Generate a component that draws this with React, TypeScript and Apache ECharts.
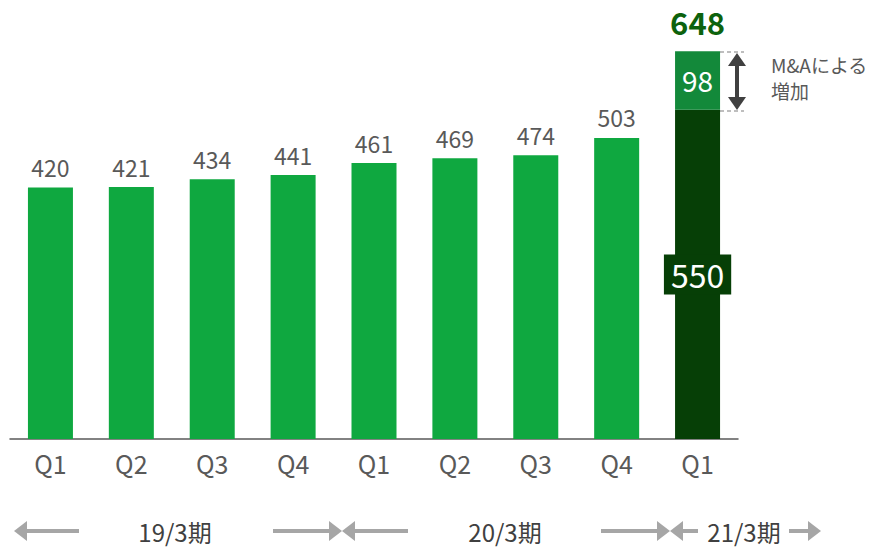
import React, { useEffect, useRef } from "react";
import * as echarts from "echarts";

const categories = ["Q1", "Q2", "Q3", "Q4", "Q1", "Q2", "Q3", "Q4", "Q1"];
const baseValues = [420, 421, 434, 441, 461, 469, 474, 503, 550];
const maValues: (number | null)[] = [null, null, null, null, null, null, null, null, 98];
const totalLabel = "648";
const periods = ["19/3期", "20/3期", "21/3期"];
const noteLines = ["M&Aによる", "増加"];

const FONT = '"Noto Sans CJK JP", "Noto Sans", sans-serif';
const GREEN = "#0fa840";
const DARK = "#063f06";
const MID = "#13893a";
const ARROW = "#a6a6a6";

function arrow(tipX: number, tailX: number, y: number) {
  const dir = tailX > tipX ? 1 : -1;
  const headLen = 13;
  const baseX = tipX + dir * headLen;
  return [
    {
      type: "rect",
      shape: { x: Math.min(baseX, tailX), y: y - 2, width: Math.abs(tailX - baseX), height: 4 },
      style: { fill: ARROW },
      silent: true,
    },
    {
      type: "polygon",
      shape: { points: [[tipX, y], [baseX, y - 10], [baseX, y + 10]] },
      style: { fill: ARROW },
      silent: true,
    },
  ];
}

export default function App() {
  const ref = useRef<HTMLDivElement>(null);
  useEffect(() => {
    const chart = echarts.init(ref.current!, null, { renderer: "svg" });
    const n = baseValues.length;
    const ay = 531;
    const periodStyle = (t: string) => ({
      text: t,
      fill: "#404040",
      font: `24px ${FONT}`,
      lineHeight: 26,
      align: "center",
      verticalAlign: "middle",
    });
    const noteStyle = (t: string) => ({
      text: t,
      fill: "#595959",
      font: `19px ${FONT}`,
      lineHeight: 20,
      align: "left",
      verticalAlign: "middle",
    });
    chart.setOption({
      animation: false,
      grid: { left: 10, right: 146, top: 20, bottom: 108, containLabel: false },
      xAxis: {
        type: "category",
        data: categories,
        axisLine: { lineStyle: { color: "#595959", width: 1.5 } },
        axisTick: { show: false },
        axisLabel: { color: "#595959", fontSize: 25, fontFamily: FONT, margin: 11 },
      },
      yAxis: {
        type: "value",
        min: 0,
        max: 700,
        show: false,
        splitLine: { show: false },
      },
      series: [
        {
          type: "bar",
          stack: "total",
          barWidth: 45,
          data: baseValues.map((v, i) =>
            i === n - 1
              ? {
                  value: v,
                  itemStyle: { color: DARK },
                  label: {
                    show: true,
                    position: "inside",
                    color: "#ffffff",
                    fontSize: 32,
                    fontFamily: FONT,
                    backgroundColor: DARK,
                    padding: [5, 7, 3, 7],
                  },
                }
              : { value: v, itemStyle: { color: GREEN } }
          ),
          label: {
            show: true,
            position: "top",
            distance: 9,
            color: "#595959",
            fontSize: 23,
            fontFamily: FONT,
          },
        },
        {
          type: "bar",
          stack: "total",
          barWidth: 45,
          data: maValues.map((v) =>
            v == null ? null : { value: v, itemStyle: { color: MID } }
          ),
          label: {
            show: true,
            position: "inside",
            color: "#ffffff",
            fontSize: 28,
            fontFamily: FONT,
          },
        },
        {
          type: "bar",
          stack: "total",
          barWidth: 45,
          data: maValues.map((v) => (v == null ? null : 0)),
          itemStyle: { color: "transparent" },
          label: {
            show: true,
            position: "top",
            distance: 14,
            formatter: () => totalLabel,
            color: "#0d620d",
            fontSize: 31,
            fontWeight: "bold",
            fontFamily: FONT,
          },
        },
      ],
      graphic: [
        { type: "line", shape: { x1: 720, y1: 52, x2: 744, y2: 52 }, style: { stroke: "#7f7f7f", lineWidth: 1.2, lineDash: [4, 3] }, silent: true },
        { type: "line", shape: { x1: 720, y1: 111, x2: 744, y2: 111 }, style: { stroke: "#7f7f7f", lineWidth: 1.2, lineDash: [4, 3] }, silent: true },
        { type: "rect", shape: { x: 735, y: 64, width: 4, height: 34 }, style: { fill: "#404040" }, silent: true },
        { type: "polygon", shape: { points: [[737, 53], [728, 66], [746, 66]] }, style: { fill: "#404040" }, silent: true },
        { type: "polygon", shape: { points: [[737, 110], [728, 97], [746, 97]] }, style: { fill: "#404040" }, silent: true },
        { type: "text", x: 771, y: 64, style: noteStyle(noteLines[0]), silent: true },
        { type: "text", x: 771, y: 90, style: noteStyle(noteLines[1]), silent: true },
        ...arrow(14, 79, ay),
        ...arrow(342, 273, ay),
        ...arrow(342, 408, ay),
        ...arrow(670, 601, ay),
        ...arrow(670, 698, ay),
        ...arrow(821, 789, ay),
        { type: "text", x: 175, y: ay, style: periodStyle(periods[0]), silent: true },
        { type: "text", x: 505, y: ay, style: periodStyle(periods[1]), silent: true },
        { type: "text", x: 744, y: ay, style: periodStyle(periods[2]), silent: true },
      ],
    });
    return () => chart.dispose();
  }, []);
  return <div ref={ref} style={{ width: 884, height: 547, position: "absolute", left: 0, top: 0 }} />;
}
